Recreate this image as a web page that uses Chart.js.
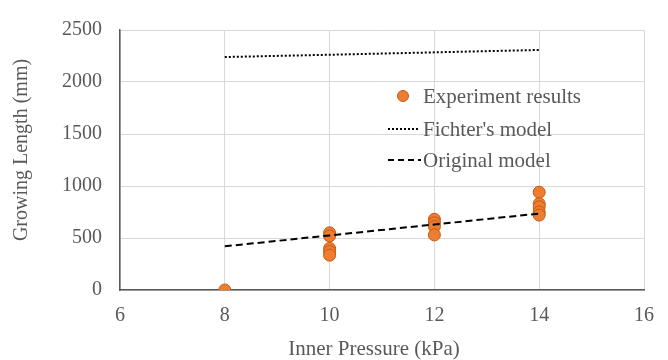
<!DOCTYPE html>
<html>
<head>
<meta charset="utf-8">
<script src="https://cdn.jsdelivr.net/npm/chart.js@4/dist/chart.umd.min.js"></script>
<style>
html,body{margin:0;padding:0;background:#fff;}
#wrap{width:668px;height:360px;position:relative;}
</style>
</head>
<body>
<div id="wrap"><canvas id="c" width="668" height="360"></canvas></div>
<script>
const expPressure = [8, 10, 10, 10, 10, 10, 12, 12, 12, 12, 14, 14, 14, 14, 14];
const expLength   = [0, 550, 520, 400, 370, 335, 680, 645, 610, 530, 940, 830, 800, 750, 720];
const modelPressure = [8, 10, 12, 14];
const fichterLength = [2240, 2262, 2285, 2308];
const originalLength = [420, 525, 630, 735];
const xTicks = [6, 8, 10, 12, 14, 16];
const yTicks = [0, 500, 1000, 1500, 2000, 2500];
const seriesLabels = ["Experiment results", "Fichter's model", "Original model"];
const xTitle = 'Inner Pressure (kPa)';
const yTitle = 'Growing Length (mm)';

const textColor = '#595959';
const serif = '"Liberation Serif", "DejaVu Serif", serif';

const legendPlugin = {
  id: 'insideLegend',
  afterDraw(chart) {
    const ctx = chart.ctx;
    ctx.save();
    ctx.font = '21px ' + serif;
    ctx.textBaseline = 'middle';
    ctx.textAlign = 'left';
    const tx = 423;
    const rows = [96, 129, 160];
    ctx.beginPath();
    ctx.arc(403, rows[0], 5.5, 0, Math.PI * 2);
    ctx.fillStyle = '#ED7D31';
    ctx.fill();
    ctx.lineWidth = 1;
    ctx.strokeStyle = '#C55A11';
    ctx.stroke();
    ctx.strokeStyle = '#000';
    ctx.lineWidth = 2;
    ctx.setLineDash([2, 2]);
    ctx.beginPath(); ctx.moveTo(388, rows[1]); ctx.lineTo(420, rows[1]); ctx.stroke();
    ctx.setLineDash([6, 4]);
    ctx.beginPath(); ctx.moveTo(388, rows[2]); ctx.lineTo(421, rows[2]); ctx.stroke();
    ctx.setLineDash([]);
    ctx.fillStyle = textColor;
    seriesLabels.forEach((t, i) => ctx.fillText(t, tx, rows[i] + 1));

    // axis titles
    ctx.textAlign = 'center';
    ctx.font = '21px ' + serif;
    ctx.fillText(xTitle, 374, 349);
    ctx.translate(22, 150);
    ctx.rotate(-Math.PI / 2);
    ctx.font = '20px ' + serif;
    ctx.fillText(yTitle, 0, 0);
    ctx.restore();
  }
};

new Chart(document.getElementById('c'), {
  type: 'scatter',
  data: {
    datasets: [
      {
        label: seriesLabels[1],
        data: modelPressure.map((x, i) => ({x, y: fichterLength[i]})),
        showLine: true,
        borderColor: '#000',
        borderWidth: 2,
        borderDash: [2, 2],
        pointRadius: 0,
        fill: false,
        order: 2
      },
      {
        label: seriesLabels[2],
        data: modelPressure.map((x, i) => ({x, y: originalLength[i]})),
        showLine: true,
        borderColor: '#000',
        borderWidth: 2,
        borderDash: [7, 4],
        pointRadius: 0,
        fill: false,
        order: 0
      },
      {
        label: seriesLabels[0],
        data: expPressure.map((x, i) => ({x, y: expLength[i]})),
        backgroundColor: '#ED7D31',
        borderColor: '#C55A11',
        borderWidth: 1,
        pointRadius: 6,
        order: 1
      }
    ]
  },
  options: {
    responsive: false,
    animation: false,
    layout: { padding: { top: 20, right: 23, left: 0, bottom: 0 } },
    plugins: { legend: { display: false }, tooltip: { enabled: false } },
    scales: {
      x: {
        type: 'linear',
        min: 6, max: 16,
        afterBuildTicks(scale) { scale.ticks = xTicks.map(v => ({value: v})); },
        afterFit(scale) { scale.height = 70; },
        grid: { color: '#d9d9d9', lineWidth: 1, drawTicks: false },
        border: { color: '#595959', width: 1.5 },
        ticks: { color: textColor, font: { family: serif, size: 20 }, padding: 14, callback: v => String(v) },
        title: { display: false }
      },
      y: {
        min: 0, max: 2500,
        afterBuildTicks(scale) { scale.ticks = yTicks.map(v => ({value: v})); },
        afterFit(scale) { scale.width = 120; },
        grid: { color: '#d9d9d9', lineWidth: 1, drawTicks: false },
        border: { color: '#595959', width: 1.5 },
        ticks: { color: textColor, font: { family: serif, size: 20 }, padding: 18, callback: v => String(v) },
        title: { display: false }
      }
    }
  },
  plugins: [legendPlugin]
});
</script>
</body>
</html>
